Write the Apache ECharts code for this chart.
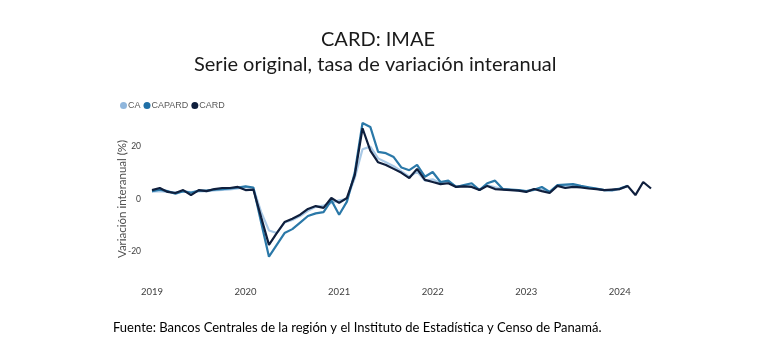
<!DOCTYPE html>
<html><head><meta charset="utf-8">
<script src="https://cdn.jsdelivr.net/npm/echarts@6/dist/echarts.min.js"></script>
<style>html,body{margin:0;padding:0;background:#fff}#c{width:768px;height:362px}</style>
</head><body><div id="c"></div>
<script>
const years = ['2019','2020','2021','2022','2023','2024'];
const months = [];
for (let y = 2019; y <= 2024; y++) for (let m = 1; m <= 12; m++) { if (y === 2024 && m > 5) break; months.push(y + '-' + String(m).padStart(2,'0')); }

const CA = [2.8,3.0,2.7,2.5,2.8,2.6,2.9,3.0,3.3,3.5,3.7,4.0,
  4.6,4.2,-5,-12,-13,-9,-8,-6.5,-4.5,-3,-2.5,-1.5,
  -0.5,0,8,19,20,15.5,14,12.5,10.5,8.5,10.5,7,
  7.5,6,6.5,4.8,5,5,3.6,5.2,4.5,3.8,3.5,3.3,
  2.9,3.8,3.6,2.6,5,5,5,4.8,4.3,3.9,3.4,3.2,
  3.8,4.8];
const CAPARD = [3.0,3.6,3.0,2.0,3.0,2.4,3.2,3.2,3.6,3.8,4.0,4.4,
  4.8,4.4,-9,-22,-17.5,-13,-11.5,-9,-6.5,-5.5,-5,-0.5,
  -6,-1,10,29,27.5,18,17.5,16,12,11,13,8.5,
  10.3,6.5,7,4.6,5.3,6,3.4,6,7,3.8,3.6,3.4,
  3,3.5,4.6,2.7,5.3,5.5,5.7,5,4.5,4,3.4,3.4,
  4,5];
const CARD = [3.4,4.2,2.7,2.3,3.4,1.5,3.4,3.0,3.8,4.2,4.2,4.6,
  3.4,3.6,-7,-17.5,-13,-8.8,-7.5,-6,-3.8,-2.7,-3.4,0.4,
  -1.5,0.4,9,27,18.5,14,13,11.5,10,8,11.5,7.3,
  6.5,5.7,6,4.6,4.8,4.6,3.4,5,3.8,3.6,3.4,3.2,
  2.7,3.8,3,2.3,5,4.2,4.6,4.4,4,3.8,3.4,3.6,
  3.8,5,1.5,6.5,4];
const yTickLabels = ['-20','0','20'];

const chart = echarts.init(document.getElementById('c'));
const F = 'Lato, "Noto Sans", sans-serif';
chart.setOption({
  animation: false,
  title: [
    {text: 'CARD: IMAE', left: 316, top: 25, textStyle: {fontFamily: F, fontWeight: 'normal', fontSize: 20, color: '#1a1a1a'}},
    {text: 'Serie original, tasa de variación interanual', left: 189, top: 50, textStyle: {fontFamily: F, fontWeight: 'normal', fontSize: 20, color: '#1a1a1a'}}
  ],
  legend: {
    left: 115, top: 96, icon: 'circle', itemWidth: 7, itemHeight: 7, itemGap: 3,
    textStyle: {fontFamily: '"Liberation Sans Narrow", "Liberation Sans", sans-serif', fontSize: 9, color: '#595959', padding: [0,0,0,-4]},
    data: ['CA','CAPARD','CARD']
  },
  grid: {left: 152, right: 117, top: 120.4, bottom: 84.4, containLabel: false},
  xAxis: {
    type: 'category', data: months, boundaryGap: false,
    axisLine: {show: false}, axisTick: {show: false},
    axisLabel: {
      interval: 0, margin: 9, fontFamily: F, fontSize: 9.5, color: '#404040',
      formatter: v => v.endsWith('-01') && years.includes(v.slice(0,4)) ? v.slice(0,4) : ''
    },
    splitLine: {show: false}
  },
  yAxis: {
    type: 'value', min: -30, max: 30, interval: 10,
    name: 'Variación interanual (%)', nameLocation: 'middle', nameGap: 24, nameMoveOverlap: false,
    nameTextStyle: {fontFamily: F, fontSize: 11.5, color: '#505050'},
    axisLine: {show: false}, axisTick: {show: false}, splitLine: {show: false},
    axisLabel: {margin: 11, fontFamily: F, fontSize: 8.5, color: '#404040',
      formatter: v => yTickLabels.includes(String(v)) ? String(v) : ''}
  },
  series: [
    {name: 'CA', type: 'line', data: CA, symbol: 'none', lineStyle: {width: 2.2, color: '#a9c9e6'}, itemStyle: {color: '#8fb6dc'}},
    {name: 'CAPARD', type: 'line', data: CAPARD, symbol: 'none', lineStyle: {width: 2.2, color: '#2a78a8'}, itemStyle: {color: '#1f6fa6'}},
    {name: 'CARD', type: 'line', data: CARD, symbol: 'none', lineStyle: {width: 2.2, color: '#0f1f3d'}, itemStyle: {color: '#0f1f3d'}}
  ],
  graphic: [{
    type: 'text', left: 113, top: 321,
    style: {
      text: '{a|Fuente:} {b|Bancos Centrales de la región y el Instituto de Estadística y Censo de Panamá.}',
      rich: {
        a: {fontFamily: F, fontSize: 13, color: '#1f3864'},
        b: {fontFamily: F, fontSize: 13, color: '#404040'}
      }
    }
  }]
});
</script></body></html>
